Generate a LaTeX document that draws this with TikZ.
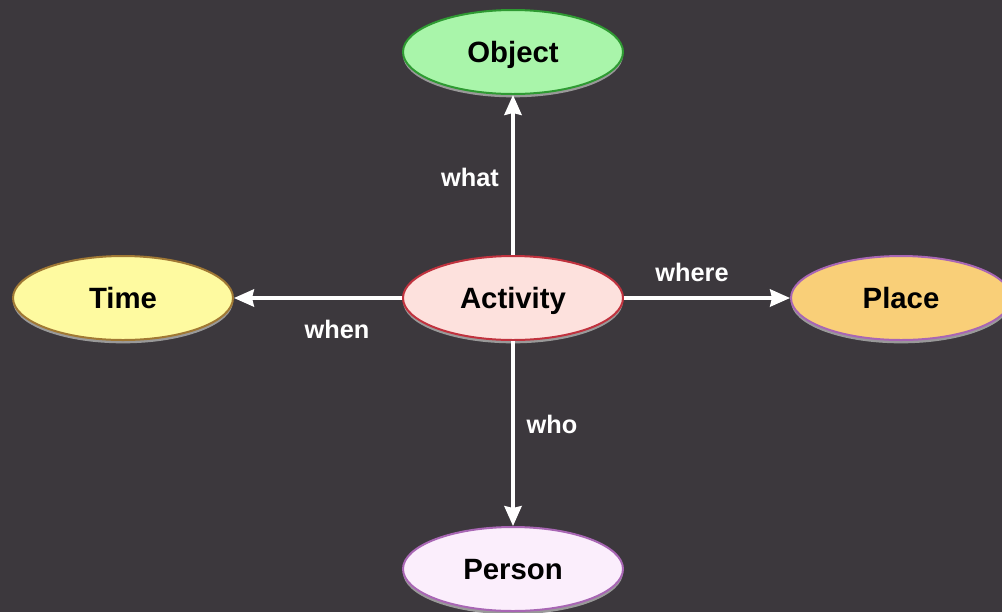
\documentclass[tikz,border=0pt]{standalone}
\usepackage{fontspec}
\setmainfont{Liberation Sans}
\usepackage{xcolor}
\usetikzlibrary{shapes.geometric,shadows,arrows.meta}

\definecolor{bgdark}{HTML}{3C383D}
\definecolor{objfill}{HTML}{A9F5AA}
\definecolor{objline}{HTML}{2E9A32}
\definecolor{timefill}{HTML}{FEFAA0}
\definecolor{timeline}{HTML}{A07834}
\definecolor{actfill}{HTML}{FDE1DD}
\definecolor{actline}{HTML}{C0323E}
\definecolor{placefill}{HTML}{F9CF78}
\definecolor{persfill}{HTML}{FBEEFC}
\definecolor{purpline}{HTML}{A866B4}

\begin{document}
\begin{tikzpicture}[x=0.75pt,y=-0.75pt,
    concept/.style={ellipse, draw, line width=1.5pt, minimum width=165pt,
      minimum height=63pt, inner sep=0pt, text height=15.8pt, text depth=0pt,
      font=\fontsize{22}{26}\selectfont\bfseries,
      drop shadow={shadow xshift=0pt, shadow yshift=-2.5pt, fill=gray!80, opacity=1}},
    flow/.style={draw=white, line width=2.3pt,
      -{Stealth[length=15pt,width=13pt,inset=1.5pt]}},
    lbl/.style={text=white, font=\fontsize{19}{23}\selectfont\bfseries}]
    \fill[bgdark] (0,0) rectangle (1002,612);
    \useasboundingbox (0,0) rectangle (1002,612);
    % the five concepts
    \node[concept, fill=actfill, draw=actline] (act) at (513,298) {Activity};
    \node[concept, fill=objfill, draw=objline] (obj) at (513,52) {Object};
    \node[concept, fill=timefill, draw=timeline] (time) at (123,298) {Time};
    \node[concept, fill=placefill, draw=purpline] (place) at (901,298) {Place};
    \node[concept, fill=persfill, draw=purpline] (pers) at (513,569) {Person};
    % relations
    \draw[flow] (act) -- (obj);
    \draw[flow] (act) -- (time);
    \draw[flow] (act) -- (place);
    \draw[flow] (act) -- (pers);
    \node[lbl] (what) at (470,177) {what};
    \node[lbl] (where) at (692,272) {where};
    \node[lbl] (when) at (337,329) {when};
    \node[lbl] (who) at (552,424) {who};
\end{tikzpicture}
\end{document}
